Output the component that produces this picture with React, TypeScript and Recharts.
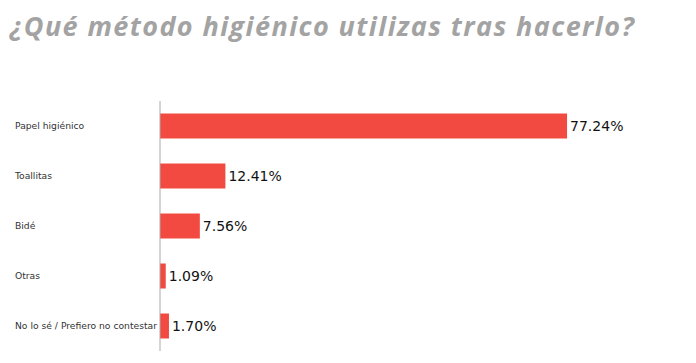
import React from 'react';
import { BarChart, Bar, XAxis, YAxis, LabelList } from 'recharts';

const categories = ['Papel higiénico', 'Toallitas', 'Bidé', 'Otras', 'No lo sé / Prefiero no contestar'];
const values = [77.24, 12.41, 7.56, 1.09, 1.7];
const title = '¿Qué método higiénico utilizas tras hacerlo?';

const data = categories.map((c, i) => ({ name: c, value: values[i] }));

const CatTick = (props: any) => {
  const { y, payload } = props;
  return (
    <text x={15} y={y} dy={3} textAnchor="start" fontSize={9.2} fill="#333" fontFamily="DejaVu Sans">
      {payload.value}
    </text>
  );
};

const ValueLabel = (props: any) => {
  const { x, y, width, height, value } = props;
  return (
    <text x={x + width + 3} y={y + height / 2} dy={5} textAnchor="start" fontSize={14} fill="#111" fontFamily="DejaVu Sans">
      {Number(value).toFixed(2)}%
    </text>
  );
};

export default function App() {
  return (
    <div style={{ position: 'absolute', left: 0, top: 0, width: 696, height: 363, background: '#fff' }}>
      <div
        style={{
          position: 'absolute',
          left: 10,
          top: 7,
          fontFamily: '"Open Sans", sans-serif',
          fontStyle: 'italic',
          fontWeight: 700,
          fontSize: 27,
          letterSpacing: 1.4,
          lineHeight: 'normal',
          color: '#a3a3a3',
          whiteSpace: 'nowrap',
        }}
      >
        {title}
      </div>
      <BarChart
        width={696}
        height={363}
        data={data}
        layout="vertical"
        margin={{ top: 101, right: 9, bottom: 12, left: 0 }}
        barCategoryGap="25%"
      >
        <XAxis type="number" domain={[0, 100]} hide />
        <YAxis
          type="category"
          dataKey="name"
          width={160}
          axisLine={{ stroke: '#aaa' }}
          tickLine={false}
          tick={<CatTick />}
        />
        <Bar dataKey="value" fill="#f24a40" isAnimationActive={false}>
          <LabelList dataKey="value" content={<ValueLabel />} />
        </Bar>
      </BarChart>
    </div>
  );
}
